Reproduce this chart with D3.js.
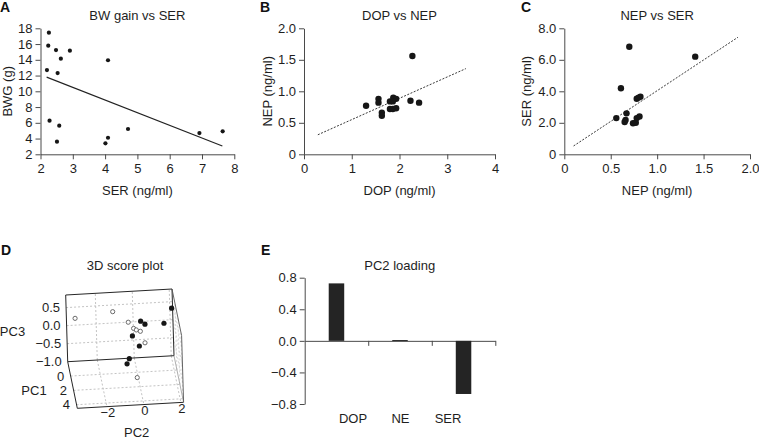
<!DOCTYPE html>
<html><head><meta charset="utf-8">
<script src="https://cdn.jsdelivr.net/npm/d3@7"></script>
<style>
body{margin:0;background:#fff;}
svg{display:block;font-family:"Liberation Sans",Arial,Helvetica,sans-serif;}
</style></head>
<body><svg id="c" width="759" height="441"></svg>
<script>
// ---- Panel A data ----
const serA = [2.26,2.24,2.48,2.91,2.63,4.09,2.20,2.53,2.28,2.58,4.71,6.92,7.64,4.09,4.01,2.51];
const bwgA = [17.44,15.8,15.24,15.16,14.14,13.94,12.7,12.32,6.27,5.63,5.21,4.7,4.92,4.1,3.39,3.6];
const fitA_x = [2.19,7.63];
const fitA_y = [11.8,3.05];
const ticksA_x = [2,3,4,5,6,7,8];
const ticksA_y = [2,4,6,8,10,12,14,16,18];
// ---- Panel B data ----
const dopB = [1.30,1.56,1.56,1.63,1.63,1.80,1.80,1.87,1.93,1.86,1.93,1.86,2.27,2.23,2.41];
const nepB = [0.77,0.88,0.82,0.66,0.61,0.84,0.72,0.90,0.88,0.84,0.73,0.72,1.56,0.85,0.82];
const fitB_x = [0.29,3.39];
const fitB_y = [0.31,1.36];
const ticksB_x = [0,1,2,3,4];
const ticksB_y = [0,0.5,1.0,1.5,2.0];
// ---- Panel C data ----
const nepC = [0.70,1.41,0.61,0.78,0.82,0.80,0.56,0.67,0.66,0.65,0.74,0.77,0.78,0.81];
const serC = [6.83,6.2,4.19,3.53,3.66,3.6,2.30,2.6,2.18,2.05,1.97,2.0,2.3,2.4];
const fitC_x = [0.10,1.87];
const fitC_y = [0.53,7.43];
const ticksC_x = [0,0.5,1.0,1.5,2.0];
const ticksC_y = [0,2,4,6,8];
// ---- Panel D data (PCA scores) ----
const pc1Open = [-0.7,-0.38,-0.05,-0.05,0.28,-0.05,0.28,0.93];
const pc2Open = [-3.22,-1.20,-0.40,-0.12,0.0,0.24,0.45,-0.07];
const pc3Open = [0.45,0.64,0.39,0.21,0.23,0.12,-0.14,-0.96];
const pc1Fill = [-0.7,-0.38,-0.05,-0.05,0.28,0.28,-0.05,-0.05];
const pc2Fill = [2.01,1.55,0.27,0.50,-0.22,0.14,-0.40,-0.53];
const pc3Fill = [0.58,0.24,0.40,0.31,0.07,-0.22,-0.62,-0.76];
const pc1Domain = [-2,4.5], pc2Domain = [-3.6,2.15], pc3Domain = [-1,0.85];
const ticksPC1 = [0,2,4], ticksPC2 = [-2,0,2], ticksPC3 = [0.5,0,-0.5,-1];
// ---- Panel E data ----
const loadCats = ["DOP","NE","SER"];
const loadVals = [0.728,0.01,-0.673];
const ticksE_y = [0.8,0.4,0,-0.4,-0.8];

const svg = d3.select("#c");
const AX = "#4a4a4a", TXT = "#1e1e1e", DOT = "#161616";

function letter(t,x,y){
  svg.append("text").attr("x",x).attr("y",y).attr("font-size",14).attr("font-weight","bold").attr("fill","#111").text(t);
}
function styleAxis(g){
  g.selectAll("path,line").attr("stroke",AX).attr("stroke-width",1);
  g.selectAll("text").attr("fill",TXT).attr("font-size",13).attr("font-family","Liberation Sans, Arial, sans-serif");
}
function scatter(c){
  const g = svg.append("g");
  const x = d3.scaleLinear().domain(c.xd).range(c.xr);
  const y = d3.scaleLinear().domain(c.yd).range(c.yr);
  const gx = g.append("g").attr("transform",`translate(0,${c.yr[0]})`)
    .call(d3.axisBottom(x).tickValues(c.xt).tickFormat(c.fx).tickSize(5).tickPadding(4).tickSizeOuter(0));
  const gy = g.append("g").attr("transform",`translate(${c.xr[0]},0)`)
    .call(d3.axisLeft(y).tickValues(c.yt).tickFormat(c.fy).tickSize(5).tickPadding(3).tickSizeOuter(0));
  styleAxis(gx); styleAxis(gy);
  g.append("line").attr("x1",x(c.lx[0])).attr("y1",y(c.ly[0])).attr("x2",x(c.lx[1])).attr("y2",y(c.ly[1]))
    .attr("stroke",c.dash?"#3a3a3a":"#222").attr("stroke-width",c.dash?1:1.1).attr("stroke-dasharray",c.dash?"2,1.5":null);
  g.selectAll("circle.pt").data(c.xs.map((v,i)=>[v,c.ys[i]])).join("circle")
    .attr("cx",d=>x(d[0])).attr("cy",d=>y(d[1])).attr("r",c.r).attr("fill",DOT);
  const cx = (c.xr[0]+c.xr[1])/2, cy = (c.yr[0]+c.yr[1])/2;
  g.append("text").attr("x",cx).attr("y",20).attr("text-anchor","middle").attr("font-size",13).attr("fill",TXT).text(c.title);
  g.append("text").attr("x",cx).attr("y",195).attr("text-anchor","middle").attr("font-size",13).attr("fill",TXT).text(c.xl);
  g.append("text").attr("transform",`translate(${c.ylx},${cy}) rotate(-90)`).attr("text-anchor","middle").attr("font-size",13).attr("fill",TXT).text(c.yl);
}
const f1 = d3.format(".1f");
const fz = d=> d===0 ? "0" : f1(d);

scatter({xd:[2,8],yd:[2,18],xr:[40.5,234.3],yr:[154.3,28.3],xt:ticksA_x,yt:ticksA_y,fx:d3.format("d"),fy:d3.format("d"),
  xs:serA,ys:bwgA,r:2.1,lx:fitA_x,ly:fitA_y,dash:false,title:"BW gain vs SER",xl:"SER (ng/ml)",yl:"BWG (g)",ylx:11.5});
scatter({xd:[0,4],yd:[0,2],xr:[304,495],yr:[154.3,28.3],xt:ticksB_x,yt:ticksB_y,fx:d3.format("d"),fy:fz,
  xs:dopB,ys:nepB,r:3.2,lx:fitB_x,ly:fitB_y,dash:true,title:"DOP vs NEP",xl:"DOP (ng/ml)",yl:"NEP (ng/ml)",ylx:272});
scatter({xd:[0,2],yd:[0,8],xr:[564.3,750],yr:[154.3,28.3],xt:ticksC_x,yt:ticksC_y,fx:fz,fy:fz,
  xs:nepC,ys:serC,r:3.2,lx:fitC_x,ly:fitC_y,dash:true,title:"NEP vs SER",xl:"NEP (ng/ml)",yl:"SER (ng/ml)",ylx:531});
letter("A",0,12); letter("B",260,12); letter("C",521,12);

// ---- Panel D: 3D score plot ----
(function(){
  const g = svg.append("g");
  const s1 = d3.scaleLinear().domain(pc1Domain).range([0,1]);
  const s2 = d3.scaleLinear().domain(pc2Domain).range([0,1]);
  const s3 = d3.scaleLinear().domain(pc3Domain).range([0,1]);
  const O=[67.7,361.7], V1=[9.6,46.6], V2=[106.3,-6], V3=[-2,-66.7];
  const pf = (a,b,c)=>[O[0]+a*V1[0]+b*V2[0]+c*V3[0], O[1]+a*V1[1]+b*V2[1]+c*V3[1]];
  const proj = (p1,p2,p3)=>pf(s1(p1),s2(p2),s3(p3));
  const seg = (A,B,stroke,w,dash)=>{ g.append("line").attr("x1",A[0]).attr("y1",A[1]).attr("x2",B[0]).attr("y2",B[1])
      .attr("stroke",stroke).attr("stroke-width",w).attr("stroke-dasharray",dash||null); };
  const GR="#b4b4b4", GRR="#d0d0d0";
  // grids
  ticksPC2.forEach(v=>{ const f=s2(v); seg(pf(0,f,0),pf(0,f,1),GR,0.8,"2,2"); seg(pf(0,f,0),pf(1,f,0),GR,0.8,"2,2"); });
  [-0.5,0,0.5].forEach(v=>{ const f=s3(v); seg(pf(0,0,f),pf(0,1,f),GR,0.8,"2,2"); seg(pf(0,1,f),pf(1,1,f),GRR,0.8,"2,2"); });
  ticksPC1.forEach(v=>{ const f=s1(v); seg(pf(f,0,0),pf(f,1,0),GR,0.8,"2,2"); seg(pf(f,1,0),pf(f,1,1),GRR,0.8,"2,2"); });
  // box edges
  const K="#262626";
  seg(pf(0,0,1),pf(0,1,1),K,1); seg(pf(0,0,0),pf(0,0,1),K,1); seg(pf(0,0,0),pf(0,1,0),K,1); seg(pf(0,1,0),pf(0,1,1),K,1);
  seg(pf(0,0,0),pf(1,0,0),K,1); seg(pf(1,0,0),pf(1,1,0),K,1); seg(pf(0,1,0),pf(1,1,0),"#999",0.8);
  seg(pf(0,1,1),pf(1,1,1),"#555",0.9); seg(pf(1,1,0),pf(1,1,1),"#555",0.9);
  // points
  const open = pc1Open.map((v,i)=>proj(v,pc2Open[i],pc3Open[i]));
  const fill = pc1Fill.map((v,i)=>proj(v,pc2Fill[i],pc3Fill[i]));
  g.selectAll("circle.o").data(open).join("circle").attr("cx",d=>d[0]).attr("cy",d=>d[1]).attr("r",2.1)
    .attr("fill","#fff").attr("stroke","#6a6a6a").attr("stroke-width",1);
  g.selectAll("circle.f").data(fill).join("circle").attr("cx",d=>d[0]).attr("cy",d=>d[1]).attr("r",2.6).attr("fill",DOT);
  // tick labels
  const t = (x,y,s,anchor)=>g.append("text").attr("x",x).attr("y",y).attr("dy","0.35em").attr("text-anchor",anchor)
      .attr("font-size",13).attr("fill",TXT).text(s);
  ticksPC3.forEach(v=>{ const p=proj(pc1Domain[0],pc2Domain[0],v); t(p[0]-6,p[1],f1(v),"end"); });
  ticksPC1.forEach(v=>{ const p=proj(v,pc2Domain[0],pc3Domain[0]); t(p[0]-6.5,p[1],d3.format("d")(v),"end"); });
  ticksPC2.forEach(v=>{ const p=proj(pc1Domain[1],v,pc3Domain[0]); t(p[0]+1,p[1]+6,d3.format("d")(v),"middle"); });
  t(12.5,331.7,"PC3","middle"); t(34,390,"PC1","middle"); t(136.7,432.5,"PC2","middle");
  g.append("text").attr("x",125).attr("y",269.5).attr("text-anchor","middle").attr("font-size",13).attr("fill",TXT).text("3D score plot");
})();
letter("D",1,255);

// ---- Panel E: PC2 loading ----
(function(){
  const g = svg.append("g");
  const xr=[304.7,495.3];
  const y = d3.scaleLinear().domain([-0.8,0.8]).range([404,277.7]);
  const xb = d3.scaleBand().domain(loadCats).range(xr);
  const xl = d3.scalePoint().domain(loadCats).range([353,448]);
  const xt = d3.scaleLinear().domain([0,loadCats.length]).range(xr);
  const gy = g.append("g").attr("transform",`translate(${xr[0]},0)`)
    .call(d3.axisLeft(y).tickValues(ticksE_y).tickFormat(f1).tickSize(5).tickPadding(3).tickSizeOuter(0));
  styleAxis(gy);
  const gx = g.append("g").attr("transform",`translate(0,${y(0)})`)
    .call(d3.axisBottom(xt).tickValues([1,2,3]).tickFormat("").tickSize(5).tickSizeOuter(0));
  styleAxis(gx);
  const bw = 15.5;
  g.selectAll("rect").data(loadVals).join("rect")
    .attr("x",(d,i)=>xb(loadCats[i])+xb.bandwidth()/2-bw/2).attr("width",bw)
    .attr("y",d=>y(Math.max(0,d))).attr("height",d=>Math.max(1,Math.abs(y(d)-y(0))))
    .attr("fill","#242424");
  loadCats.forEach(c=>g.append("text").attr("x",xl(c)).attr("y",423.3).attr("text-anchor","middle").attr("font-size",13).attr("fill",TXT).text(c));
  g.append("text").attr("x",399.7).attr("y",270).attr("text-anchor","middle").attr("font-size",13).attr("fill",TXT).text("PC2 loading");
})();
letter("E",261,255);
</script></body></html>
